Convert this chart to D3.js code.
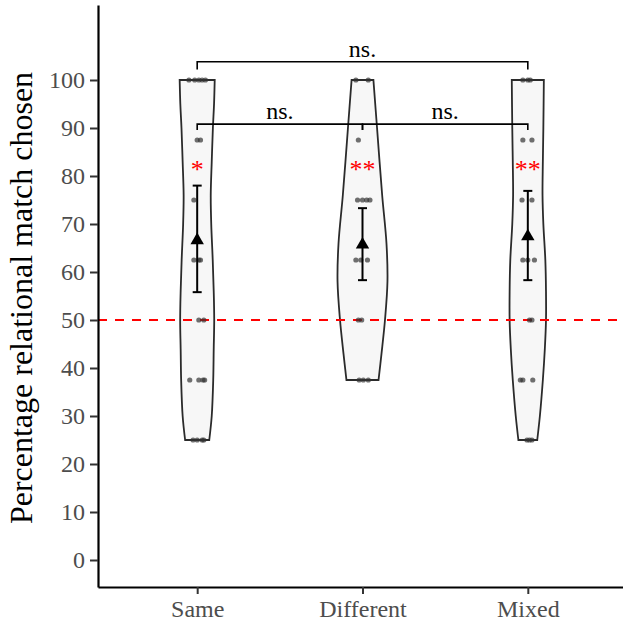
<!DOCTYPE html>
<html>
<head>
<meta charset="utf-8">
<script src="https://d3js.org/d3.v7.min.js"></script>
<style>
  body { margin: 0; background: #ffffff; }
  text { font-family: "Liberation Serif", "Times New Roman", serif; }
</style>
</head>
<body>
<div id="my_dataviz"></div>
<script>

// data
var groups = ["Same", "Different", "Mixed"];
var yTicks = [0, 10, 20, 30, 40, 50, 60, 70, 80, 90, 100];

// group means and error bar ends
var means  = [66.6, 65.7, 67.4];
var errLow = [55.8, 58.3, 58.3];
var errHigh = [78.0, 73.3, 76.9];

// significance stars vs chance
var stars = ["*", "**", "**"];
var chance = 50;

// violin outline: [value, half width in category units]
var violinSame = [[25, 0.073], [30, 0.088], [37.5, 0.097], [44, 0.1], [50, 0.103], [56, 0.1],
                  [62.5, 0.094], [70, 0.085], [76, 0.082], [83, 0.088], [90, 0.095], [95, 0.102], [100, 0.106]];
var violinDifferent = [[37.5, 0.097], [43, 0.115], [50, 0.136], [58, 0.151], [66, 0.145],
                       [76, 0.119], [90, 0.088], [100, 0.066]];
var violinMixed = [[25, 0.057], [30, 0.073], [37.5, 0.091], [44, 0.103], [50, 0.11], [56, 0.11],
                   [62.5, 0.106], [70, 0.094], [76, 0.089], [83, 0.091], [90, 0.094], [100, 0.097]];
var violins = [violinSame, violinDifferent, violinMixed];

// individual scores and their jitter (category units)
var sameVals = [100, 100, 100, 100, 100, 87.5, 87.5, 75, 62.5, 62.5, 62.5, 50, 50,
                37.5, 37.5, 37.5, 37.5, 25, 25, 25, 25];
var sameJit  = [-0.05, -0.015, 0.01, 0.03, 0.05, 0, 0.02, -0.02, -0.02, 0.01, 0.02, 0.01, 0.04,
                -0.045, 0.01, 0.035, 0.045, -0.025, 0, 0.03, 0.04];
var diffVals = [100, 100, 87.5, 75, 75, 75, 75, 62.5, 62.5, 62.5, 50, 50, 37.5, 37.5, 37.5];
var diffJit  = [-0.04, 0.035, -0.025, -0.03, 0, 0.025, 0.045, -0.04, -0.01, 0.03, -0.025, -0.005,
                -0.02, 0.005, 0.035];
var mixVals  = [100, 100, 100, 87.5, 87.5, 75, 75, 62.5, 62.5, 62.5, 50, 50, 37.5, 37.5, 37.5, 25, 25, 25];
var mixJit   = [-0.03, 0, 0.015, -0.03, 0.025, -0.035, 0.025, -0.03, 0, 0.04, 0.01, 0.025,
                -0.045, -0.03, 0.03, -0.005, 0.01, 0.025];
var pointVals = [sameVals, diffVals, mixVals];
var pointJit = [sameJit, diffJit, mixJit];

// pairwise comparisons: [from group, to group, bar level, tip level, label]
var brackets = [[1, 3, 103.8, 102.2, "ns."],
                [1, 2, 90.8, 89.6, "ns."],
                [2, 3, 90.8, 89.6, "ns."]];

var width = 623, height = 622;

var svg = d3.select("#my_dataviz")
  .append("svg")
    .attr("width", width)
    .attr("height", height);

// scales: category index 1..3 on x, percentage on y
var x = d3.scaleLinear().domain([0.4, 3.6]).range([98, 627]);
var y = d3.scaleLinear().domain([-5.625, 115.625]).range([587, 5]);

// violins
var area = d3.area()
  .curve(d3.curveCatmullRom)
  .y(function(d) { return y(d[0]); });

violins.forEach(function(v, i) {
  var c = i + 1;
  area.x0(function(d) { return x(c - d[1]); })
      .x1(function(d) { return x(c + d[1]); });
  svg.append("path")
    .attr("d", area(v))
    .attr("fill", "#f7f7f7")
    .attr("stroke", "#2b2b2b")
    .attr("stroke-width", 1.8);
});

// chance line
svg.append("line")
  .attr("x1", x(0.4)).attr("x2", x(3.6))
  .attr("y1", y(chance)).attr("y2", y(chance))
  .attr("stroke", "#ff0000")
  .attr("stroke-width", 1.8)
  .attr("stroke-dasharray", "9,8");

// points
pointVals.forEach(function(vals, i) {
  svg.append("g")
    .selectAll("circle")
    .data(vals)
    .enter()
    .append("circle")
      .attr("cx", function(d, j) { return x(i + 1 + pointJit[i][j]); })
      .attr("cy", function(d) { return y(d); })
      .attr("r", 2.6)
      .attr("fill", "#333")
      .attr("fill-opacity", 0.7);
});

// error bars
groups.forEach(function(g, i) {
  var cx = x(i + 1);
  var eb = svg.append("g").attr("stroke", "#000").attr("stroke-width", 2);
  eb.append("line").attr("x1", cx).attr("x2", cx).attr("y1", y(errLow[i])).attr("y2", y(errHigh[i]));
  eb.append("line").attr("x1", cx - 4.5).attr("x2", cx + 4.5).attr("y1", y(errLow[i])).attr("y2", y(errLow[i]));
  eb.append("line").attr("x1", cx - 4.5).attr("x2", cx + 4.5).attr("y1", y(errHigh[i])).attr("y2", y(errHigh[i]));
});

// means
svg.append("g")
  .selectAll("path")
  .data(means)
  .enter()
  .append("path")
    .attr("d", d3.symbol(d3.symbolTriangle).size(78))
    .attr("transform", function(d, i) { return "translate(" + x(i + 1) + "," + y(d) + ")"; })
    .attr("fill", "#000");

// stars
svg.append("g")
  .selectAll("text")
  .data(stars)
  .enter()
  .append("text")
    .attr("x", function(d, i) { return x(i + 1); })
    .attr("y", y(82) + 12)
    .attr("text-anchor", "middle")
    .style("font-size", "26px")
    .attr("fill", "#ff0000")
    .text(function(d) { return d; });

// brackets
brackets.forEach(function(b) {
  var x1 = x(b[0]), x2 = x(b[1]);
  svg.append("path")
    .attr("d", "M" + x1 + "," + y(b[3]) + "V" + y(b[2]) + "H" + x2 + "V" + y(b[3]))
    .attr("fill", "none")
    .attr("stroke", "#000")
    .attr("stroke-width", 1.6);
  svg.append("text")
    .attr("x", (x1 + x2) / 2)
    .attr("y", y(b[2]) - 5)
    .attr("text-anchor", "middle")
    .style("font-size", "24px")
    .attr("fill", "#000")
    .text(b[4]);
});

// Y axis
var yAxis = svg.append("g")
  .attr("transform", "translate(" + x(0.4) + ",0)")
  .call(d3.axisLeft(y).tickValues(yTicks).tickSize(8).tickSizeOuter(0).tickPadding(5));
yAxis.selectAll("text").style("font-size", "24px").attr("fill", "#4d4d4d")
  .style("font-family", "'Liberation Serif', 'Times New Roman', serif");

// X axis
var xAxis = svg.append("g")
  .attr("transform", "translate(0," + y(-5.625) + ")")
  .call(d3.axisBottom(x).tickValues([1, 2, 3]).tickFormat(function(d) { return groups[d - 1]; })
        .tickSize(7).tickSizeOuter(0).tickPadding(6));
xAxis.selectAll("text").style("font-size", "24px").attr("fill", "#4d4d4d")
  .style("font-family", "'Liberation Serif', 'Times New Roman', serif");

[yAxis, xAxis].forEach(function(a) {
  a.select(".domain").attr("stroke", "#000").attr("stroke-width", 2.2);
  a.selectAll(".tick line").attr("stroke", "#333").attr("stroke-width", 2);
});

// Y axis label
svg.append("text")
  .attr("text-anchor", "middle")
  .attr("transform", "translate(32,298) rotate(-90)")
  .style("font-size", "32px")
  .attr("fill", "#000")
  .text("Percentage relational match chosen");

</script>
</body>
</html>
